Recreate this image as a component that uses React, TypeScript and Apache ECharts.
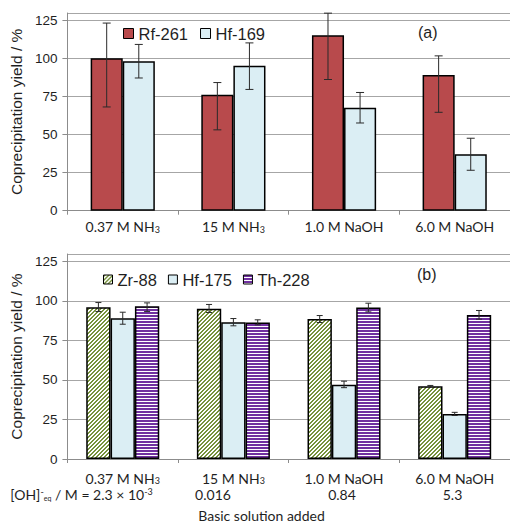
import React, { useEffect, useRef } from "react";
import * as echarts from "echarts";

// ---------- data ----------
const categories = ["0.37 M NH3", "15 M NH3", "1.0 M NaOH", "6.0 M NaOH"];
const ohConcentrations = ["2.3 × 10^-3", "0.016", "0.84", "5.3"];
const yMin = 0;
const yMax = 129.6; // top of plot frame
const yInterval = 25;

// (a)
const rf261 = [100, 76, 115, 89];
const rf261Low = [68, 53, 86, 64.5];
const rf261High = [123, 84, 129.5, 101.5];
const hf169 = [98, 95, 67.5, 37];
const hf169Low = [87, 79.5, 57.5, 26.5];
const hf169High = [109, 110, 77.5, 47.5];

// (b)
const zr88 = [96, 95, 88.5, 46];
const zr88Low = [93.2, 92.6, 86.3, 45.5];
const zr88High = [98.9, 97.7, 90.7, 46.5];
const hf175 = [89, 86.5, 47, 28.5];
const hf175Low = [85.2, 84.2, 45.1, 27.5];
const hf175High = [92.8, 88.8, 49.2, 29.5];
const th228 = [96.5, 86.3, 95.8, 91];
const th228Low = [93.2, 84.8, 93, 88.4];
const th228High = [98.7, 88, 98.5, 93.9];

// ---------- styles ----------
const RED = "#b84a4c";
const LIGHTBLUE = "#dbeef4";
const GREEN = "#76923c";
const PURPLE = "#7030a0";
const GRID_COLOR = "#a6a6a6";
const AXIS_COLOR = "#8c8c8c";
const TEXT = "#1f1f1f";
const ARIAL = "Liberation Sans, Arial, sans-serif";
const CAL = "Lato, sans-serif";

const LINE2_X = [81.5, 213, 342, 452.5];

function makePattern(kind: "diag" | "horiz", color: string) {
  const c = document.createElement("canvas");
  const w = 4;
  const h = kind === "diag" ? 4 : 3;
  c.width = w;
  c.height = h;
  const ctx = c.getContext("2d")!;
  ctx.fillStyle = "#ffffff";
  ctx.fillRect(0, 0, w, h);
  ctx.fillStyle = color;
  for (let y = 0; y < h; y++) {
    for (let x = 0; x < w; x++) {
      const on = kind === "diag" ? (x + y) % 4 < 2 : y < 2;
      if (on) ctx.fillRect(x, y, 1, 1);
    }
  }
  return { image: c, repeat: "repeat", imageWidth: w, imageHeight: h } as any;
}

function catLabel(v: string) {
  return v.replace(/NH3$/, "NH{sub|3}");
}

function ohLabel(v: string, i: number) {
  const t = v.replace(/\^(-?\d+)/, "{sup|$1}");
  return i === 0 ? "[OH]{sup|-}{sub2|eq} / M = " + t : t;
}

const richBase = {
  sub: { fontSize: 9, fontFamily: CAL, color: TEXT, lineHeight: 8, verticalAlign: "bottom" },
  sup: { fontSize: 9, fontFamily: CAL, color: TEXT, lineHeight: 8, verticalAlign: "top" },
  sub2: { fontSize: 7, fontFamily: CAL, color: TEXT, lineHeight: 6, verticalAlign: "bottom" },
};

function errSeries(
  name: string,
  low: number[],
  high: number[],
  axis: number,
  offsetFrac: number,
  capHalf: number
) {
  return {
    type: "custom",
    name,
    xAxisIndex: axis,
    yAxisIndex: axis,
    z: 5,
    silent: true,
    clip: false,
    data: low.map((l, i) => [i, l, high[i]]),
    encode: { x: 0, y: [1, 2] },
    renderItem: (_p: any, api: any) => {
      const cat = api.value(0);
      const band = api.size([1, 0])[0];
      const x = api.coord([cat, 0])[0] + offsetFrac * band;
      const yl = api.coord([cat, api.value(1)])[1];
      const yh = api.coord([cat, api.value(2)])[1];
      const st = { stroke: "#2a2a2a", lineWidth: 1 };
      return {
        type: "group",
        children: [
          { type: "line", shape: { x1: x, y1: yl, x2: x, y2: yh }, style: st },
          { type: "line", shape: { x1: x - capHalf, y1: yh, x2: x + capHalf, y2: yh }, style: st },
          { type: "line", shape: { x1: x - capHalf, y1: yl, x2: x + capHalf, y2: yl }, style: st },
        ],
      };
    },
  };
}

function yAxisCfg(gridIndex: number) {
  return {
    type: "value",
    gridIndex,
    min: yMin,
    max: yMax,
    interval: yInterval,
    name: "Coprecipitation yield / %",
    nameLocation: "middle",
    nameGap: 37,
    nameTextStyle: { fontFamily: ARIAL, fontSize: 15.5, color: TEXT },
    axisLine: { show: true, lineStyle: { color: AXIS_COLOR, width: 1 } },
    axisTick: { show: true, length: 5, lineStyle: { color: AXIS_COLOR } },
    axisLabel: {
      fontFamily: ARIAL,
      fontSize: 13.5,
      color: TEXT,
      margin: 10,
      showMaxLabel: false,
      formatter: (v: number) => (v % yInterval === 0 ? String(v) : ""),
    },
    splitLine: { show: true, lineStyle: { color: GRID_COLOR, width: 1 } },
  };
}

function xAxisCfg(gridIndex: number, margin: number) {
  return {
    type: "category",
    gridIndex,
    data: categories,
    axisLine: { show: true, lineStyle: { color: AXIS_COLOR, width: 1 } },
    axisTick: { show: true, length: 4, lineStyle: { color: AXIS_COLOR } },
    axisLabel: {
      interval: 0,
      margin,
      fontFamily: CAL,
      fontSize: 14,
      color: TEXT,
      lineHeight: 14,
      formatter: catLabel,
      rich: richBase,
    },
  };
}

export default function App() {
  const ref = useRef<HTMLDivElement>(null);
  useEffect(() => {
    if (!ref.current) return;
    const chart = echarts.init(ref.current, undefined, { renderer: "svg" });
    const zrPat = makePattern("diag", GREEN);
    const thPat = makePattern("horiz", PURPLE);
    const barBorder = { borderColor: "#000", borderWidth: 1.5 };

    const option: any = {
      animation: false,
      backgroundColor: "#ffffff",
      grid: [
        { left: 64, top: 13, width: 457, height: 197.7 },
        { left: 64, top: 254, width: 457, height: 205 },
      ],
      xAxis: [xAxisCfg(0, 9), xAxisCfg(1, 12)],
      yAxis: [yAxisCfg(0), yAxisCfg(1)],
      legend: [
        {
          data: ["Rf-261", "Hf-169"],
          left: 118,
          top: 20,
          icon: "rect",
          itemWidth: 10,
          itemHeight: 10,
          itemGap: 12,
          textStyle: { fontFamily: ARIAL, fontSize: 16.5, color: TEXT },
          itemStyle: { borderColor: "#000", borderWidth: 1 },
        },
        {
          data: ["Zr-88", "Hf-175", "Th-228"],
          left: 98,
          top: 266,
          icon: "rect",
          itemWidth: 9,
          itemHeight: 9,
          itemGap: 11,
          textStyle: { fontFamily: ARIAL, fontSize: 16.5, color: TEXT },
          itemStyle: { borderColor: "#000", borderWidth: 1 },
        },
      ],
      graphic: [
        {
          type: "text",
          left: 418,
          top: 24,
          style: { text: "(a)", fontFamily: ARIAL, fontSize: 16, fill: TEXT },
        },
        {
          type: "text",
          left: 417,
          top: 266,
          style: { text: "(b)", fontFamily: ARIAL, fontSize: 16, fill: TEXT },
        },
        ...ohConcentrations.map((v, i) => ({
          type: "text",
          x: LINE2_X[i],
          y: 494,
          style: {
            text: ohLabel(v, i),
            align: "center",
            verticalAlign: "middle",
            fontFamily: CAL,
            fontSize: 14,
            lineHeight: 14,
            fill: TEXT,
            rich: richBase,
          },
        })),
        {
          type: "text",
          x: 261.5,
          y: 515,
          style: {
            text: "Basic solution added",
            align: "center",
            verticalAlign: "middle",
            fontFamily: CAL,
            fontSize: 14,
            fill: TEXT,
          },
        },
      ],
      series: [
        {
          type: "bar",
          name: "Rf-261",
          xAxisIndex: 0,
          yAxisIndex: 0,
          data: rf261,
          barGap: "0%",
          barCategoryGap: "42%",
          itemStyle: { color: RED, ...barBorder },
        },
        {
          type: "bar",
          name: "Hf-169",
          xAxisIndex: 0,
          yAxisIndex: 0,
          data: hf169,
          barGap: "0%",
          barCategoryGap: "42%",
          itemStyle: { color: LIGHTBLUE, ...barBorder },
        },
        errSeries("err-rf261", rf261Low, rf261High, 0, -0.145, 4),
        errSeries("err-hf169", hf169Low, hf169High, 0, 0.145, 4),
        {
          type: "bar",
          name: "Zr-88",
          xAxisIndex: 1,
          yAxisIndex: 1,
          data: zr88,
          barGap: "0%",
          barCategoryGap: "34%",
          itemStyle: { color: zrPat, ...barBorder },
        },
        {
          type: "bar",
          name: "Hf-175",
          xAxisIndex: 1,
          yAxisIndex: 1,
          data: hf175,
          barGap: "0%",
          barCategoryGap: "34%",
          itemStyle: { color: LIGHTBLUE, ...barBorder },
        },
        {
          type: "bar",
          name: "Th-228",
          xAxisIndex: 1,
          yAxisIndex: 1,
          data: th228,
          barGap: "0%",
          barCategoryGap: "34%",
          itemStyle: { color: thPat, ...barBorder },
        },
        errSeries("err-zr88", zr88Low, zr88High, 1, -0.22, 3),
        errSeries("err-hf175", hf175Low, hf175High, 1, 0, 3),
        errSeries("err-th228", th228Low, th228High, 1, 0.22, 3),
      ],
    };
    chart.setOption(option);
    return () => chart.dispose();
  }, []);
  return (
    <div
      ref={ref}
      style={{ position: "absolute", left: 0, top: 0, width: 510, height: 522 }}
    />
  );
}
